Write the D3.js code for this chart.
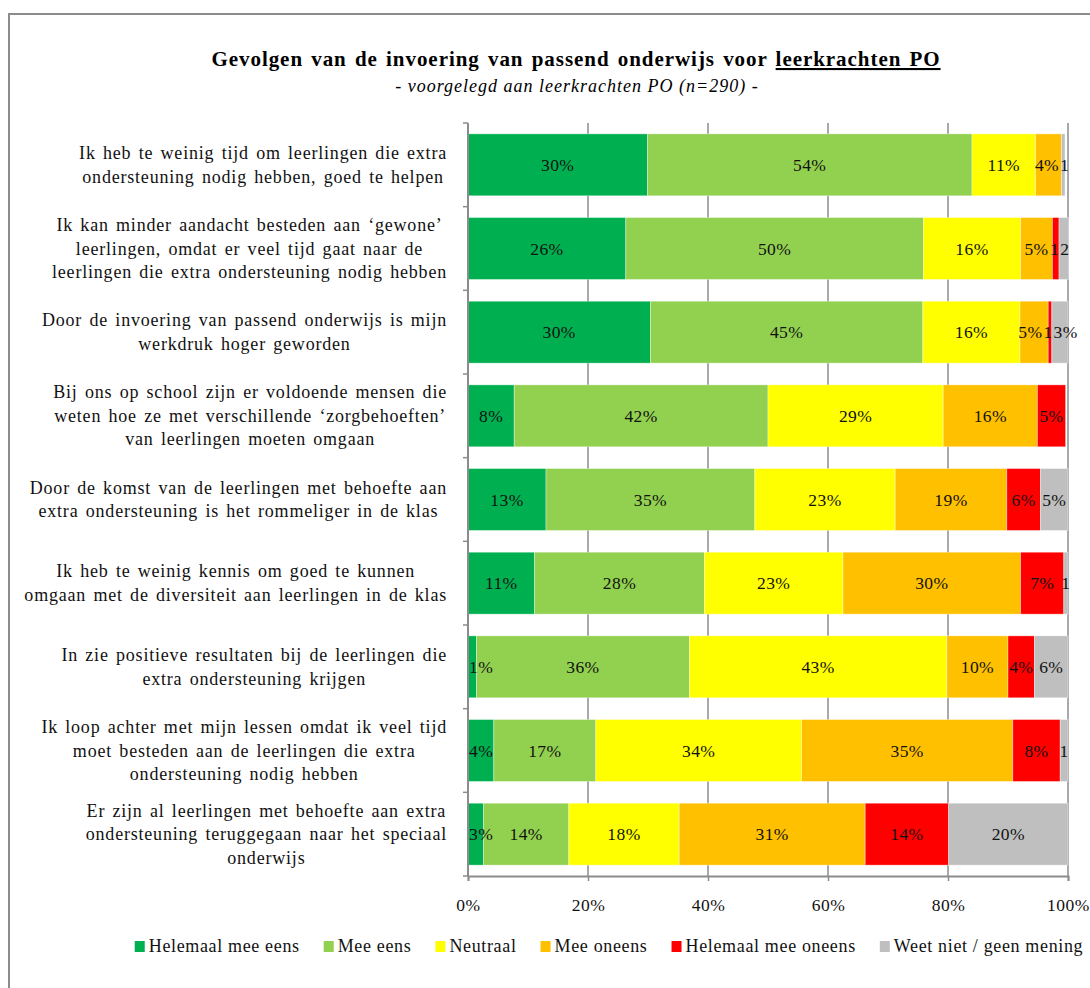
<!DOCTYPE html>
<html>
<head>
<meta charset="utf-8">
<script src="https://cdn.jsdelivr.net/npm/d3@7"></script>
<style>
  body { margin: 0; background: #fff; }
  svg { display: block; font-family: "Liberation Serif", "Times New Roman", serif; }
</style>
</head>
<body>
<div id="chart"></div>
<script>
// statements (each one is a list of lines as in the original)
const categories = [
  ["Ik heb te weinig tijd om leerlingen  die extra", "ondersteuning  nodig  hebben,  goed  te helpen"],
  ["Ik kan minder  aandacht besteden aan \u2018gewone\u2019", "leerlingen,  omdat er veel tijd gaat naar de", "leerlingen  die extra ondersteuning  nodig  hebben"],
  ["Door de invoering  van passend onderwijs  is mijn", "werkdruk hoger  geworden"],
  ["Bij ons op school zijn er voldoende  mensen  die", "weten hoe ze met verschillende  \u2018zorgbehoeften\u2019", "van leerlingen  moeten  omgaan"],
  ["Door de komst van de leerlingen  met behoefte  aan", "extra ondersteuning  is het rommeliger  in de klas"],
  ["Ik heb te weinig  kennis  om goed  te kunnen", "omgaan met de diversiteit  aan leerlingen  in de klas"],
  ["In zie positieve  resultaten  bij de leerlingen  die", "extra ondersteuning  krijgen"],
  ["Ik loop achter met mijn lessen omdat ik veel  tijd", "moet besteden  aan de leerlingen  die extra", "ondersteuning  nodig  hebben"],
  ["Er zijn al leerlingen  met behoefte  aan extra", "ondersteuning  teruggegaan  naar het speciaal", "onderwijs"]
];

const seriesNames = ["Helemaal mee eens", "Mee eens", "Neutraal", "Mee oneens", "Helemaal mee oneens", "Weet niet / geen mening"];
const seriesColors = ["#00b050", "#92d050", "#ffff00", "#ffc000", "#ff0000", "#bfbfbf"];

// percentages per answer, one value per statement
const helemaalEens  = [29.9, 26.3, 30.4,  7.7, 13.0, 11.1,  1.4,  4.3,  2.6];
const meeEens       = [54.1, 49.6, 45.4, 42.3, 34.8, 28.3, 35.5, 17.0, 14.2];
const neutraal      = [10.6, 16.2, 16.2, 29.2, 23.4, 23.1, 42.9, 34.3, 18.4];
const meeOneens     = [ 4.3,  5.3,  4.7, 15.7, 18.6, 29.6, 10.2, 35.2, 31.0];
const helemaalOneens= [ 0.0,  1.1,  0.6,  4.7,  5.6,  7.2,  4.4,  7.9, 13.9];
const weetNiet      = [ 0.6,  1.6,  2.7,  0.0,  4.6,  0.7,  5.6,  1.3, 19.9];
const seriesValues = [helemaalEens, meeEens, neutraal, meeOneens, helemaalOneens, weetNiet];

const xTicks = [0, 20, 40, 60, 80, 100];

const title = "Gevolgen van de invoering  van passend onderwijs  voor ";
const titleUnderlined = "leerkrachten PO";
const subtitle = "- voorgelegd aan leerkrachten PO (n=290) -";

const width = 1090;
const height = 988;
const margin = { top: 123, right: 22, bottom: 112, left: 468 };

const svg = d3.select('#chart')
  .append('svg')
  .attr('width', width)
  .attr('height', height);

// outer frame
svg.append('rect')
  .attr('x', 9).attr('y', 14)
  .attr('width', 1100).attr('height', 1000)
  .attr('fill', 'none')
  .attr('stroke', '#8c8c8c')
  .attr('stroke-width', 2);

// title
const titleText = svg.append('text')
  .attr('x', 576).attr('y', 66)
  .attr('text-anchor', 'middle')
  .style('font-size', '21px')
  .style('font-weight', 'bold')
  .style('letter-spacing', '0.95px')
  .style('word-spacing', '2px');
titleText.append('tspan').text(title);
titleText.append('tspan').style('text-decoration', 'underline').text(titleUnderlined);

svg.append('text')
  .attr('x', 577).attr('y', 92)
  .attr('text-anchor', 'middle')
  .style('font-size', '18px')
  .style('font-style', 'italic')
  .style('letter-spacing', '1px')
  .text(subtitle);

const xScale = d3.scaleLinear()
  .domain([0, 100])
  .range([margin.left, width - margin.right]);

const yScale = d3.scaleBand()
  .domain(d3.range(categories.length))
  .range([margin.top, height - margin.bottom])
  .paddingInner(0.26)
  .paddingOuter(0.13);

const plotBottom = height - margin.bottom;

// vertical gridlines
svg.append('g')
  .selectAll('line')
  .data(xTicks.slice(1))
  .join('line')
  .attr('x1', d => xScale(d)).attr('x2', d => xScale(d))
  .attr('y1', margin.top).attr('y2', plotBottom)
  .attr('stroke', '#8c8c8c')
  .attr('stroke-width', 1.5);

// stacked data
const rows = categories.map((c, i) => {
  let x0 = 0;
  return seriesValues.map((vals, s) => {
    const seg = { row: i, s, v: vals[i], x0, x1: x0 + vals[i] };
    x0 += vals[i];
    return seg;
  });
});
const segments = rows.flat().filter(d => d.v > 0);

svg.append('g')
  .selectAll('rect')
  .data(segments)
  .join('rect')
  .attr('x', d => xScale(d.x0))
  .attr('y', d => yScale(d.row))
  .attr('width', d => xScale(d.x1) - xScale(d.x0))
  .attr('height', yScale.bandwidth())
  .attr('fill', d => seriesColors[d.s])
  .attr('stroke', 'rgba(255,255,255,0.45)')
  .attr('stroke-width', 0.8);

// value labels
const fmt = d3.format('.0f');
const labels = svg.append('g')
  .selectAll('text')
  .data(segments)
  .join('text')
  .attr('y', d => yScale(d.row) + yScale.bandwidth() / 2 + 6)
  .attr('text-anchor', 'middle')
  .style('font-size', '17.5px')
  .style('letter-spacing', '0.4px')
  .attr('fill', '#111')
  .text(d => {
    const r = fmt(d.v);
    // tiny right-hand segments only show the number
    return (d.s >= 4 && +r < 2.5) ? r : r + '%';
  });

labels.each(function (d) {
  d.w = this.getComputedTextLength();
  d.lx = (xScale(d.x0) + xScale(d.x1)) / 2;
  if (d.s === 0) d.lx = Math.max(d.lx, xScale(d.x0) + d.w / 2 + 1);
});
// push neighbouring labels apart when they collide
d3.groups(segments, d => d.row).forEach(([, segs]) => {
  for (let k = 0; k < 30; k++) {
    for (let j = 1; j < segs.length; j++) {
      const a = segs[j - 1], b = segs[j];
      const overlap = (a.lx + a.w / 2 + 1) - (b.lx - b.w / 2);
      if (overlap > 0) { a.lx -= overlap / 2; b.lx += overlap / 2; }
    }
  }
});
labels.attr('x', d => d.lx);

// left axis (category boundary ticks)
const axisColor = '#8c8c8c';
const boundaries = d3.range(categories.length + 1)
  .map(i => margin.top + i * yScale.step());
svg.append('line')
  .attr('x1', margin.left).attr('x2', margin.left)
  .attr('y1', margin.top).attr('y2', plotBottom)
  .attr('stroke', axisColor).attr('stroke-width', 2);
svg.append('g')
  .selectAll('line')
  .data(boundaries)
  .join('line')
  .attr('x1', margin.left - 5).attr('x2', margin.left)
  .attr('y1', d => d).attr('y2', d => d)
  .attr('stroke', axisColor).attr('stroke-width', 1.5);

// bottom axis
const xAxis = d3.axisBottom(xScale)
  .tickValues(xTicks)
  .tickSize(5)
  .tickPadding(18)
  .tickFormat(d => d + '%');
const xg = svg.append('g')
  .attr('transform', `translate(0, ${plotBottom})`)
  .call(xAxis);
xg.select('.domain').attr('stroke', axisColor).attr('stroke-width', 2);
xg.selectAll('.tick line').attr('stroke', axisColor).attr('stroke-width', 1.5);
xg.selectAll('.tick text')
  .attr('fill', '#111')
  .style('font-family', '"Liberation Serif", serif')
  .style('font-size', '17.5px')
  .style('letter-spacing', '0.5px');

// category labels: block right-aligned, lines centred in the block
const labelRight = 447;
const lineH = 23.5;
categories.forEach((lines, i) => {
  const cy = yScale(i) + yScale.bandwidth() / 2;
  const g = svg.append('g');
  const texts = g.selectAll('text')
    .data(lines)
    .join('text')
    .attr('y', (d, j) => cy + (j - (lines.length - 1) / 2) * lineH + 6)
    .attr('text-anchor', 'middle')
    .attr('fill', '#111')
    .style('font-size', '18px')
    .style('letter-spacing', '0.8px')
    .style('word-spacing', '2px')
    .text(d => d);
  let maxW = 0;
  texts.each(function () { maxW = Math.max(maxW, this.getComputedTextLength()); });
  texts.attr('x', labelRight - maxW / 2);
});

// legend
const legend = svg.append('g').attr('transform', 'translate(0, 952)');
let lx = 0;
const items = legend.selectAll('g')
  .data(seriesNames)
  .join('g');
items.append('rect')
  .attr('x', 0).attr('y', -11)
  .attr('width', 10).attr('height', 11)
  .attr('fill', (d, i) => seriesColors[i]);
items.append('text')
  .attr('x', 14).attr('y', 0)
  .attr('fill', '#111')
  .style('font-size', '18px')
  .style('letter-spacing', '0.65px')
  .text(d => d);
items.each(function () {
  const w = d3.select(this).select('text').node().getComputedTextLength();
  d3.select(this).attr('transform', `translate(${lx}, 0)`);
  lx += 14 + w + 24;
});
const legendW = lx - 24;
legend.attr('transform', `translate(${609 - legendW / 2}, 952)`);
</script>
</body>
</html>
